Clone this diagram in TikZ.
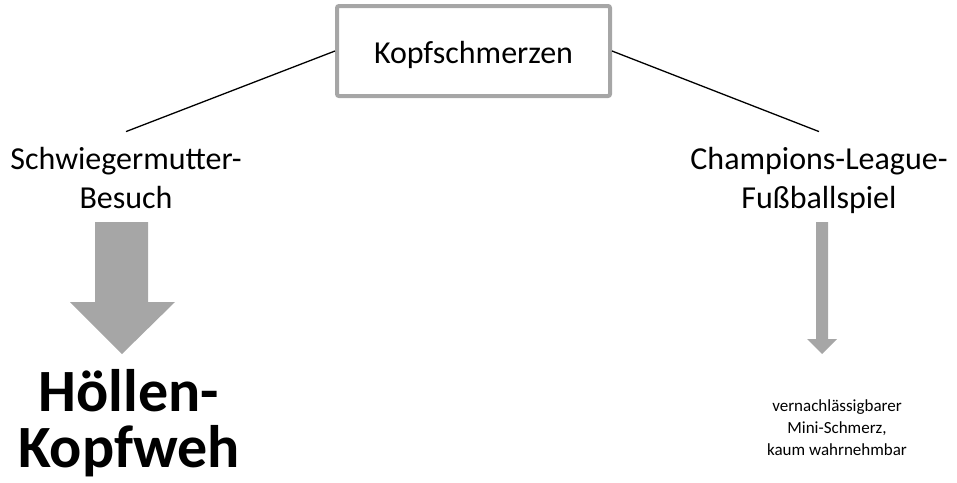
\documentclass[tikz,border=0pt]{standalone}
\usepackage{fontspec}
\setmainfont{Carlito}
\definecolor{boxgray}{HTML}{A6A6A6}
\tikzset{
  topbox/.style={draw=boxgray, line width=4pt, rounded corners=2pt, minimum width=273pt, minimum height=90pt, inner sep=0pt, text height=24pt, text depth=0pt, font=\fontsize{32}{39}\selectfont},
  cause/.style={align=center, inner xsep=0pt, inner ysep=15pt, font=\fontsize{32}{39}\selectfont},
  bigres/.style={align=center, inner sep=0pt, font=\fontsize{60}{56}\selectfont\bfseries},
  smallres/.style={align=center, inner sep=0pt, font=\fontsize{17}{22}\selectfont},
  conn/.style={line width=1.3pt, black},
  blockarrow/.style={fill=boxgray}
}
\begin{document}
\begin{tikzpicture}[x=1pt,y=-1pt]
\useasboundingbox (0,0) rectangle (957,482);
\node[topbox] (top) at (473.5,51) {Kopfschmerzen};
\node[cause, anchor=base] (left) at (126,208) {Schwiegermutter-\\Besuch};
\node[cause, anchor=base] (right) at (819,208) {Champions-League-\\Fußballspiel};
\node[bigres, anchor=base] (hell) at (129,467) {Höllen-\\Kopfweh};
\node[smallres, anchor=base] (mini) at (837,455) {vernachlässigbarer\\Mini-Schmerz,\\kaum wahrnehmbar};
\draw[conn] (top.west) -- (left.north);
\draw[conn] (top.east) -- (right.north);
\fill[blockarrow] (95,222) -- (148,222) -- (148,302) -- (175,302) -- (122,354) -- (70,302) -- (95,302) -- cycle;
\fill[blockarrow] (816,222) -- (828,222) -- (828,339) -- (837,339) -- (822,354) -- (807,339) -- (816,339) -- cycle;
\end{tikzpicture}
\end{document}
